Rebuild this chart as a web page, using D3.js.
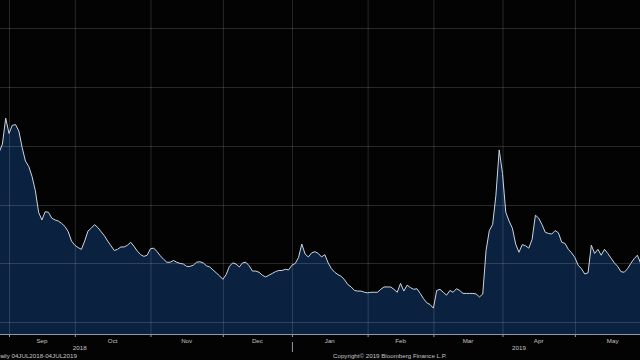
<!DOCTYPE html>
<html>
<head>
<meta charset="utf-8">
<script src="https://cdn.jsdelivr.net/npm/d3@7"></script>
<style>
  html, body { margin: 0; padding: 0; background: #000; }
  svg { display: block; }
  text { font-family: "Liberation Sans", Arial, sans-serif; fill: #c4c4c4; }
</style>
</head>
<body>
<div id="chart"></div>
<script>
// daily closes, one per weekday from 29 Aug 2018
var values = [
  38.9, 40.3, 44.7, 42.1, 43.5, 43.6, 42.5, 39.7, 37.4, 36.5,
  34.8, 32.4, 28.7, 27.4, 28.8, 28.7, 27.7, 27.4, 27.2, 26.8,
  26.3, 25.4, 23.8, 23.1, 22.7, 22.4, 23.8, 25.5, 26.0, 26.6,
  26.1, 25.4, 24.7, 23.8, 23.0, 22.2, 22.4, 22.8, 22.8, 23.1,
  23.6, 22.9, 22.1, 21.5, 21.2, 21.4, 22.5, 22.6, 22.0, 21.3,
  20.7, 20.2, 20.2, 20.5, 20.2, 20.0, 19.9, 19.5, 19.5, 19.7,
  20.2, 20.3, 20.1, 19.6, 19.4, 18.9, 18.4, 17.9, 17.3, 18.1,
  19.5, 20.1, 19.9, 19.4, 20.1, 20.2, 19.6, 18.7, 18.7, 18.5,
  18.0, 17.7, 18.0, 18.3, 18.6, 18.8, 18.8, 19.0, 18.9, 19.7,
  20.0, 21.0, 23.3, 21.6, 21.1, 21.8, 22.0, 21.7, 21.1, 21.5,
  20.1, 19.1, 18.5, 18.1, 17.8, 17.2, 16.4, 16.0, 15.4, 15.3,
  15.3, 15.1, 15.0, 15.1, 15.1, 15.1, 15.6, 16.0, 16.0, 16.0,
  15.6, 15.1, 16.6, 15.3, 16.3, 15.9, 15.6, 15.7, 14.9, 14.0,
  13.3, 13.0, 12.4, 15.4, 15.6, 15.1, 14.6, 15.4, 15.1, 15.7,
  15.4, 14.9, 14.9, 14.9, 14.9, 14.8, 14.3, 14.8, 22.2, 25.6,
  26.6, 31.6, 39.3, 35.3, 28.7, 27.2, 26.0, 23.3, 21.9, 23.2,
  23.0, 22.6, 24.1, 28.2, 27.7, 26.6, 25.3, 25.1, 25.0, 25.6,
  25.2, 23.6, 23.4, 22.4, 21.8, 21.0, 19.7, 19.1, 18.2, 18.4,
  23.1, 21.7, 22.4, 21.4, 22.4, 21.7, 20.9, 20.1, 19.5, 18.6,
  18.5, 19.1, 20.0, 20.8, 21.4, 20.0
];
var monthNames = ["Jan", "Feb", "Mar", "Apr", "May", "Jun", "Jul", "Aug", "Sep", "Oct", "Nov", "Dec"];
var yTicks = [10, 20, 30, 40, 50, 60];
var periodText = "Daily 04JUL2018-04JUL2019";
var copyText = "Copyright\u00A9 2019 Bloomberg Finance L.P.";

var width = 640, height = 360;
var axisY = 334;

function weekdays(a, b) {
  return d3.timeDays(a, b).filter(function (d) { return d.getDay() % 6 !== 0; });
}

// every weekday of the full period, the plotted values start at 29 Aug 2018
var allDays = weekdays(new Date(2018, 6, 4), new Date(2019, 6, 5));
var firstIdx = d3.bisectLeft(allDays, new Date(2018, 7, 29));
var data = values.map(function (v, i) { return {i: firstIdx + i, date: allDays[firstIdx + i], v: v}; });

var x = d3.scaleLinear()
  .domain([firstIdx, firstIdx + values.length - 1])
  .range([-0.87, 640.68]);

var y = d3.scaleLinear()
  .domain([8, 64.8])
  .range([axisY, 0]);

var svg = d3.select('#chart').append('svg')
  .attr('width', width)
  .attr('height', height);

svg.append('rect').attr('width', width).attr('height', height).attr('fill', '#030303');

var area = d3.area()
  .x(function (d) { return x(d.i); })
  .y0(axisY)
  .y1(function (d) { return y(d.v); });

var line = d3.line()
  .x(function (d) { return x(d.i); })
  .y(function (d) { return y(d.v); });

svg.append('path')
  .datum(data)
  .attr('d', area)
  .attr('fill', '#0a213f');

// month starts (first weekday of each month)
var monthStarts = [];
allDays.forEach(function (d, i) {
  if (i === 0 || d.getMonth() !== allDays[i - 1].getMonth()) monthStarts.push({i: i, date: d});
});
monthStarts.push({i: allDays.length, date: new Date(2019, 6, 5)});

var grid = svg.append('g').attr('class', 'grid');

grid.selectAll('line.v')
  .data(monthStarts.slice(0, -1))
  .enter().append('line')
  .attr('class', 'v')
  .attr('x1', function (d) { return x(d.i) + 0.5; })
  .attr('x2', function (d) { return x(d.i) + 0.5; })
  .attr('y1', 0)
  .attr('y2', axisY)
  .attr('stroke', 'rgba(255,255,255,0.15)')
  .attr('stroke-width', 1);

grid.selectAll('line.h')
  .data(yTicks)
  .enter().append('line')
  .attr('class', 'h')
  .attr('x1', 0)
  .attr('x2', width)
  .attr('y1', function (d) { return Math.round(y(d)) + 0.5; })
  .attr('y2', function (d) { return Math.round(y(d)) + 0.5; })
  .attr('stroke', 'rgba(255,255,255,0.15)')
  .attr('stroke-width', 1);

svg.append('path')
  .datum(data)
  .attr('d', line)
  .attr('fill', 'none')
  .attr('stroke', '#cfd5dd')
  .attr('stroke-width', 1);

// x axis
svg.append('line')
  .attr('x1', 0).attr('x2', width)
  .attr('y1', axisY + 0.5).attr('y2', axisY + 0.5)
  .attr('stroke', '#8f9aa8')
  .attr('stroke-width', 1);

svg.selectAll('line.tick')
  .data(monthStarts.slice(0, -1))
  .enter().append('line')
  .attr('class', 'tick')
  .attr('x1', function (d) { return x(d.i) + 0.5; })
  .attr('x2', function (d) { return x(d.i) + 0.5; })
  .attr('y1', axisY)
  .attr('y2', axisY + 3)
  .attr('stroke', '#8f9aa8');

var months = monthStarts.slice(0, -1).map(function (d, k) {
  return {name: monthNames[d.date.getMonth()], cx: (x(d.i) + x(monthStarts[k + 1].i)) / 2};
}).filter(function (d) { return d.cx > 5 && d.cx < width - 5; });

svg.selectAll('text.month')
  .data(months)
  .enter().append('text')
  .attr('class', 'month')
  .attr('x', function (d) { return d.cx; })
  .attr('y', 343)
  .attr('text-anchor', 'middle')
  .attr('font-size', '6.2px')
  .text(function (d) { return d.name; });

// years
var janIdx = monthStarts.filter(function (d) { return d.date.getMonth() === 0; })[0].i;
var years = [
  {name: "2018", cx: (x(0) + x(janIdx)) / 2},
  {name: "2019", cx: (x(janIdx) + x(allDays.length + 5)) / 2}
];
svg.selectAll('text.year')
  .data(years)
  .enter().append('text')
  .attr('class', 'year')
  .attr('x', function (d) { return d.cx; })
  .attr('y', 350)
  .attr('text-anchor', 'middle')
  .attr('font-size', '6.2px')
  .text(function (d) { return d.name; });

svg.append('line')
  .attr('x1', x(janIdx) + 0.5).attr('x2', x(janIdx) + 0.5)
  .attr('y1', 342).attr('y2', 352)
  .attr('stroke', '#8f9aa8');

svg.append('text')
  .attr('x', -4)
  .attr('y', 358)
  .attr('font-size', '6.2px')
  .text(periodText);

svg.append('text')
  .attr('x', 333)
  .attr('y', 358)
  .attr('font-size', '6.2px')
  .text(copyText);
</script>
</body>
</html>
